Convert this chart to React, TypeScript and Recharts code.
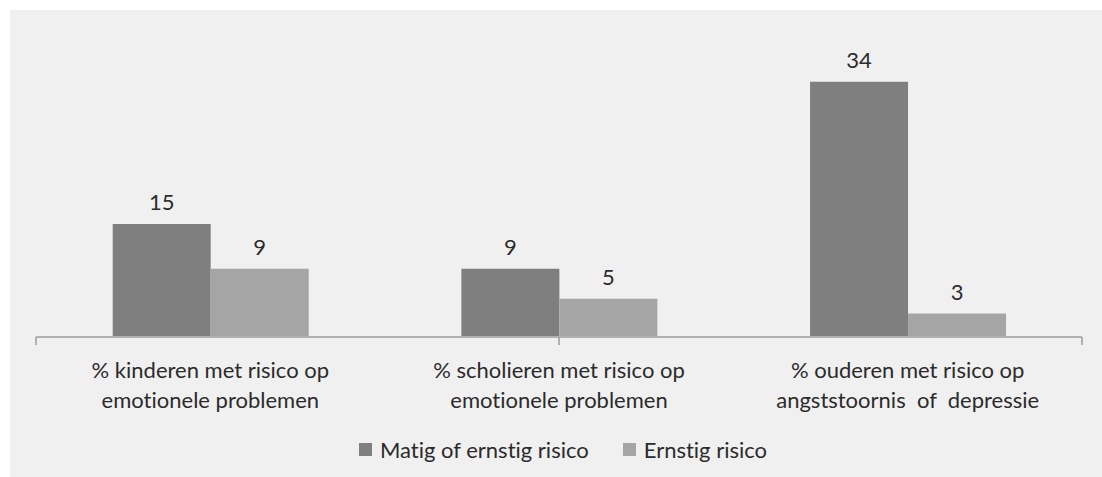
import { Bar, BarChart, LabelList, Legend, XAxis, YAxis } from 'recharts'

const categoryLines = [
  ['% kinderen met risico op', 'emotionele problemen'],
  ['% scholieren met risico op', 'emotionele problemen'],
  ['% ouderen met risico op', 'angststoornis  of  depressie'],
]
const matigValues = [15, 9, 34]
const ernstigValues = [9, 5, 3]
const boundaryTicks = [0, 1, 2, 3]

const DARK = '#7f7f7f'
const LIGHT = '#a5a5a5'
const TEXT = '#2b2b2b'
const FONT = 'Lato, "Open Sans", sans-serif'

const data = categoryLines.map((lines, i) => ({
  cat: String(i),
  matig: matigValues[i],
  ernstig: ernstigValues[i],
}))

function CategoryTick({ x, y, payload }: any) {
  const lines = categoryLines[Number(payload.value)] ?? []
  return (
    <text
      x={x}
      y={y}
      textAnchor="middle"
      fontSize={22}
      fontFamily={FONT}
      fill={TEXT}
      style={{ fontVariantLigatures: 'none' }}
    >
      {lines.map((l, i) => (
        <tspan key={i} x={x} dy={i === 0 ? 34 : 30} style={{ whiteSpace: 'pre' }}>
          {l}
        </tspan>
      ))}
    </text>
  )
}

function LegendContent() {
  const items = [
    { label: 'Matig of ernstig risico', color: DARK },
    { label: 'Ernstig risico', color: LIGHT },
  ]
  return (
    <div
      style={{
        display: 'flex',
        justifyContent: 'center',
        gap: 34,
        fontFamily: FONT,
        fontSize: 22,
        color: TEXT,
        fontVariantLigatures: 'none',
      }}
    >
      {items.map((it) => (
        <div key={it.label} style={{ display: 'flex', alignItems: 'center', gap: 8 }}>
          <span style={{ width: 13, height: 13, background: it.color, display: 'inline-block' }} />
          <span>{it.label}</span>
        </div>
      ))}
    </div>
  )
}

const emptyTick = () => <g />

export default function App() {
  return (
    <div style={{ position: 'relative', width: 1102, height: 477, background: '#ffffff', overflow: 'hidden' }}>
      <style>{'body{margin:0}'}</style>
      <div style={{ position: 'absolute', left: 10, top: 10, width: 1092, height: 467, background: '#f0f0f0' }} />
      <div style={{ position: 'absolute', left: 0, top: 0 }}>
        <BarChart
          width={1102}
          height={477}
          data={data}
          margin={{ top: 37, right: 20, left: 36, bottom: 139 }}
          barCategoryGap="22%"
          barGap={0}
        >
          <XAxis
            xAxisId="bounds"
            type="number"
            domain={[0, 3]}
            ticks={boundaryTicks}
            allowDataOverflow
            height={1}
            tick={emptyTick}
            tickSize={8}
            axisLine={{ stroke: '#9c9c9c', strokeWidth: 1.5 }}
            tickLine={{ stroke: '#9c9c9c', strokeWidth: 1.5 }}
          />
          <XAxis
            dataKey="cat"
            height={1}
            axisLine={false}
            tickLine={false}
            interval={0}
            tick={<CategoryTick />}
          />
          <YAxis hide domain={[0, 40]} />
          <Legend
            layout="horizontal"
            verticalAlign="middle"
            wrapperStyle={{ top: 436, left: 12, width: 1102 }}
            content={<LegendContent />}
          />
          <Bar dataKey="matig" name="Matig of ernstig risico" fill={DARK} isAnimationActive={false}>
            <LabelList dataKey="matig" position="top" offset={14} fontSize={22} fontFamily={FONT} fill={TEXT} />
          </Bar>
          <Bar dataKey="ernstig" name="Ernstig risico" fill={LIGHT} isAnimationActive={false}>
            <LabelList dataKey="ernstig" position="top" offset={14} fontSize={22} fontFamily={FONT} fill={TEXT} />
          </Bar>
        </BarChart>
      </div>
    </div>
  )
}
